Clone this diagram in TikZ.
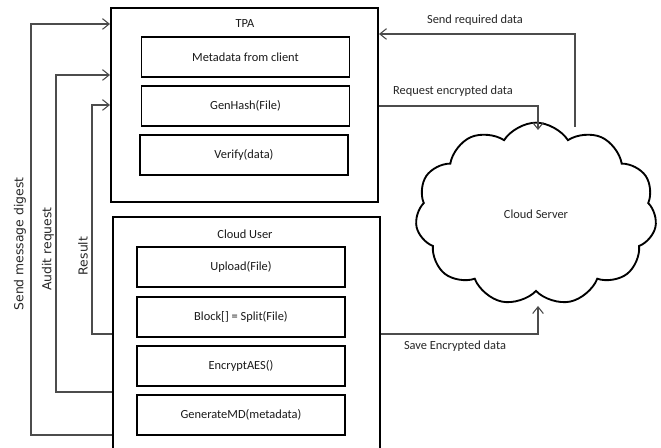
\documentclass[tikz,border=0pt]{standalone}
\usepackage{fontspec}
\setmainfont{Carlito}
\newfontfamily\sidefont{DejaVu Sans}
\usetikzlibrary{arrows.meta,fit,shapes.symbols}
\begin{document}
\begin{tikzpicture}[x=0.75pt,y=-0.75pt,
  outerbox/.style={draw=black,line width=1.5pt,inner sep=0pt},
  fnbox/.style={draw=black,line width=1.4pt,minimum width=156pt,minimum height=30pt,inner sep=0pt,font=\fontsize{9.3}{11}\selectfont,text=black!90},
  title/.style={font=\fontsize{9.3}{11}\selectfont,text=black!90},
  lbl/.style={font=\fontsize{9.3}{11}\selectfont,text=black!85},
  sidelbl/.style={font=\sidefont\fontsize{9.3}{11}\selectfont,text=black!85,rotate=90},
  conn/.style={draw=black!70,line width=0.8pt},
  arr/.style={conn,-{Straight Barb[length=5pt,width=8pt,line width=0.8pt]}},
]
\useasboundingbox (0,0) rectangle (661,448);
\clip (0,0) rectangle (661,448);
% TPA
\node[outerbox,fit={(111,8) (378,202)}] (tpa) {};
\node[title] (tpat) at (245,24) {TPA};
\node[fnbox] (meta) at (245.5,57) {Metadata from client};
\node[fnbox] (gen) at (245.5,106) {GenHash(File)};
\node[fnbox] (ver) at (244,155) {Verify(data)};
% Cloud User
\node[outerbox,fit={(113,217) (380,470)}] (cu) {};
\node[title] (cut) at (245,234) {Cloud User};
\node[fnbox] (up) at (241,267) {Upload(File)};
\node[fnbox] (blk) at (241,317) {Block[] = Split(File)};
\node[fnbox] (enc) at (241,366) {EncryptAES()};
\node[fnbox] (gmd) at (241,415) {GenerateMD(metadata)};
% Cloud
\node[cloud,draw=black,line width=1.4pt,cloud puffs=11,cloud puff arc=115,aspect=1.4,minimum width=181pt,minimum height=137pt,font=\fontsize{9.3}{11}\selectfont,text=black!85] (cs) at (536,214) {Cloud Server};
\coordinate (reqend) at (538,130);
\coordinate (sendstart) at (575,127);
\coordinate (saveend) at (538,306);
% left connectors
\draw[arr] (cu.west |- 0,435) -- (31,435) |- (tpa.west |- 0,24);
\draw[arr] (cu.west |- 0,392) -- (56,392) |- (tpa.west |- 0,75);
\draw[arr] (cu.west |- 0,334) -- (92,334) |- (tpa.west |- 0,105);
\node[sidelbl] (l1) at (20,244) {Send message digest};
\node[sidelbl] (l2) at (48,249) {Audit request};
\node[sidelbl] (l3) at (83,256) {Result};
% right connectors
\draw[arr] (sendstart) |- (tpa.east |- 0,34);
\draw[arr] (tpa.east |- 0,106) -| (reqend);
\draw[arr] (cu.east |- 0,334) -| (saveend);
\node[lbl] (t1) at (475,20) {Send required data};
\node[lbl] (t2) at (453,91) {Request encrypted data};
\node[lbl] (t3) at (455,346) {Save Encrypted data};
\end{tikzpicture}
\end{document}
